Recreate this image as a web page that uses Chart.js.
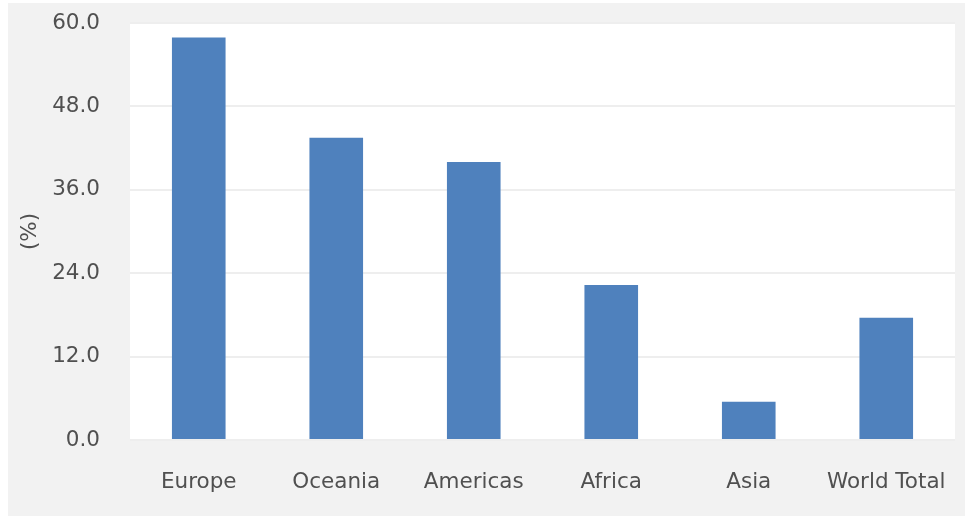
<!DOCTYPE html>
<html lang="en">
<head>
  <meta charset="UTF-8" />
  <title>Share by region (%)</title>
  <script src="https://cdn.jsdelivr.net/npm/chart.js"></script>
  <style>
    html, body { margin: 0; padding: 0; background: #fff; }
    #wrap { width: 965px; height: 516px; }
  </style>
</head>
<body>
  <div id="wrap"><canvas id="chart"></canvas></div>
  <script>
    const regions = ['Europe', 'Oceania', 'Americas', 'Africa', 'Asia', 'World Total'];
    const shares = [57.9, 43.5, 40.0, 22.3, 5.5, 17.6];
    const yTicks = [0, 12, 24, 36, 48, 60];

    const font = { family: '"DejaVu Sans", Verdana, sans-serif', size: 21.5 };
    const textColor = '#505050';

    // grey panel behind everything, white plot area
    const panel = {
      id: 'panel',
      beforeDraw(chart) {
        const { ctx, chartArea: a } = chart;
        ctx.save();
        ctx.fillStyle = '#f2f2f2';
        ctx.fillRect(8, 3, chart.width - 8, chart.height - 3);
        ctx.fillStyle = '#ffffff';
        ctx.fillRect(a.left, a.top, a.right - a.left, a.bottom - a.top);
        ctx.restore();
      }
    };

    new Chart(document.getElementById('chart'), {
      type: 'bar',
      data: {
        labels: regions,
        datasets: [{
          data: shares,
          backgroundColor: '#4f81bd',
          borderWidth: 0,
          barPercentage: 0.39,
          categoryPercentage: 1
        }]
      },
      options: {
        responsive: true,
        maintainAspectRatio: false,
        animation: false,
        layout: { padding: { left: 8, right: 10, top: 23, bottom: 0 } },
        plugins: { legend: { display: false }, tooltip: { enabled: false } },
        scales: {
          x: {
            grid: { display: false },
            border: { display: false },
            ticks: { font, color: textColor, padding: 22, maxRotation: 0 },
            afterFit: s => { s.height = 76; s.paddingLeft = 0; s.paddingRight = 0; }
          },
          y: {
            min: 0, max: 60,
            afterBuildTicks: s => { s.ticks = yTicks.map(v => ({ value: v })); },
            grid: { color: '#eeeeee', lineWidth: 2, drawTicks: false },
            border: { display: false },
            ticks: { font, color: textColor, padding: 30, callback: v => v.toFixed(1) },
            title: { display: true, text: '(%)', font, color: textColor, padding: 10 },
            afterFit: s => { s.width = 122; s.paddingTop = 0; s.paddingBottom = 0; }
          }
        }
      },
      plugins: [panel]
    });
  </script>
</body>
</html>
